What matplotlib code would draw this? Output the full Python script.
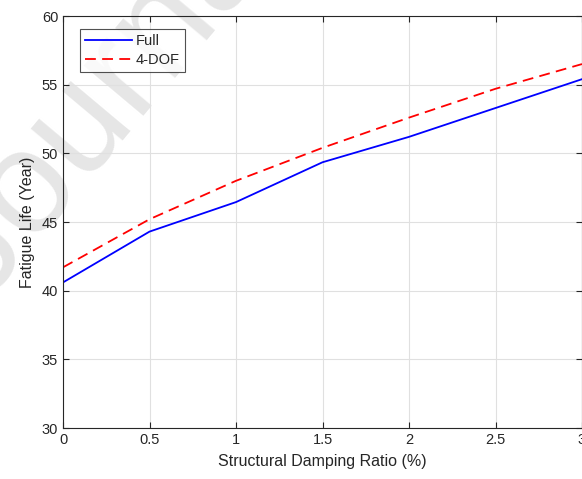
import matplotlib
matplotlib.use("Agg")
import matplotlib.pyplot as plt

x = [0, 0.5, 1, 1.5, 2, 2.5, 3]
full = [40.6, 44.3, 46.45, 49.35, 51.2, 53.3, 55.4]
dof4 = [41.7, 45.2, 48.0, 50.4, 52.6, 54.7, 56.5]
xticks = [0, 0.5, 1, 1.5, 2, 2.5, 3]
yticks = [30, 35, 40, 45, 50, 55, 60]

plt.rcParams['font.family'] = ['Liberation Sans', 'DejaVu Sans']
tc = '#262626'
fig = plt.figure(figsize=(5.82, 4.79), dpi=100)
ax = fig.add_axes([63/582, 1 - 428/479, 519/582, 412/479])

fig.text(0.19, 0.805, 'Journal', fontsize=106, color='#e6e6e6', rotation=50,
         ha='center', va='center', zorder=-1)
ax.set_facecolor('none')

ax.plot(x, full, color='#0000ff', lw=1.3, label='Full')
ax.plot(x, dof4, color='#ff0000', lw=1.3, ls=(0, (6, 3.5)), label='4-DOF')
ax.set_xlim(0, 3)
ax.set_ylim(30, 60)
ax.set_xticks(xticks)
ax.set_xticklabels([f'{t:g}' for t in xticks])
ax.set_yticks(yticks)
ax.grid(True, color='#e0e0e0', lw=0.8)
ax.tick_params(direction='in', top=True, right=True, labelsize=10.5, colors=tc, length=4, width=0.8)
for s in ax.spines.values():
    s.set_color(tc)
    s.set_linewidth(0.8)
ax.set_xlabel('Structural Damping Ratio (%)', fontsize=11.5, color=tc, labelpad=5)
ax.set_ylabel('Fatigue Life (Year)', fontsize=11.5, color=tc, labelpad=5)
leg = ax.legend(loc='upper left', bbox_to_anchor=(0.033, 0.968), fontsize=10.5, frameon=True,
                fancybox=False, edgecolor=tc, handlelength=3.2, borderpad=0.35,
                labelspacing=0.35, handletextpad=0.25, borderaxespad=0)
leg.get_frame().set_linewidth(0.8)
for t in leg.get_texts():
    t.set_color(tc)
fig.savefig('out.png', dpi=100)
